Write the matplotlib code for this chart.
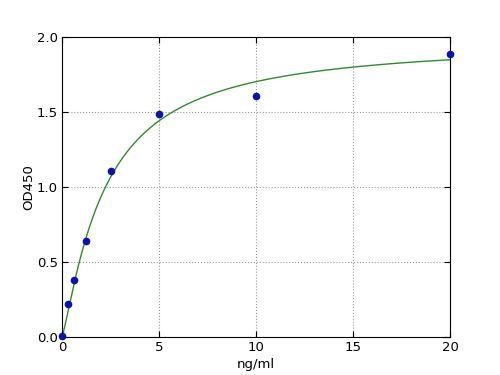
import matplotlib
matplotlib.use('Agg')
import matplotlib.pyplot as plt
import numpy as np

# standard concentrations and measured OD
conc = [0, 0.3125, 0.625, 1.25, 2.5, 5, 10, 20]
od = [0.01, 0.22, 0.38, 0.64, 1.11, 1.49, 1.61, 1.89]

# 4PL fit parameters
fit_a, fit_b, fit_c, fit_d = 0.0, 1.2, 2.2, 1.98

def four_pl(x):
    return fit_d + (fit_a - fit_d) / (1 + (x / fit_c) ** fit_b)

fig = plt.figure(figsize=(5, 3.75), dpi=100)
ax = fig.add_axes([0.124, 0.101, 0.776, 0.8])

xs = np.linspace(0, 20, 400)
ax.plot(xs, four_pl(xs), color='#2e8b2e', linewidth=1.0)
ax.plot(conc, od, 'o', color='#0a14a8', markersize=4.5, clip_on=False, zorder=3)

ax.set_xlim(0, 20)
ax.set_ylim(0, 2.0)
ax.set_xticks([0, 5, 10, 15, 20])
ax.set_yticks([0, 0.5, 1.0, 1.5, 2.0])
ax.set_yticklabels(['0.0', '0.5', '1.0', '1.5', '2.0'])
ax.grid(True, linestyle=':', color='#999999', linewidth=0.8)
ax.tick_params(direction='in', top=True, right=True, labelsize=9.5, length=4, pad=3)
ax.set_xlabel('ng/ml', fontsize=9.5, labelpad=3)
ax.set_ylabel('OD450', fontsize=9.5, labelpad=1)

fig.savefig('out.png', dpi=100)
